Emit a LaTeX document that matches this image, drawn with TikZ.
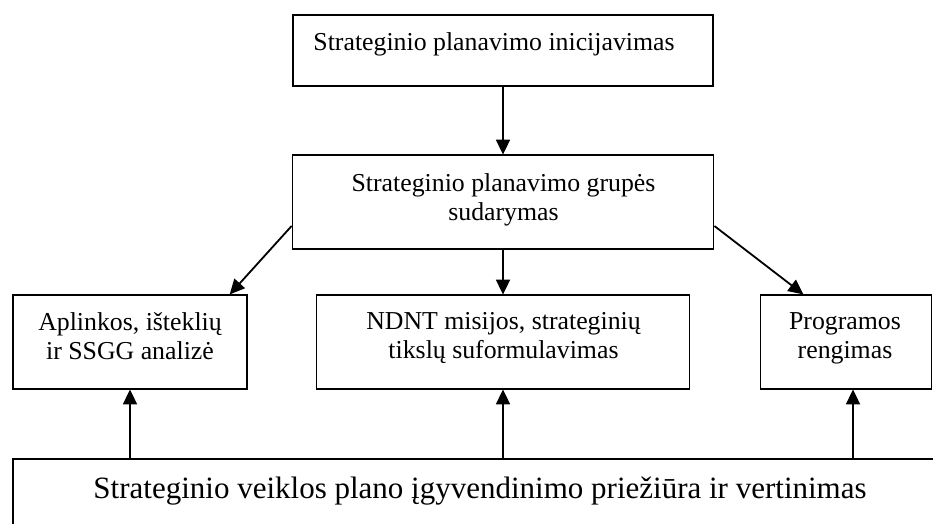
\documentclass[tikz,border=0pt]{standalone}
\usepackage{fontspec}
\setmainfont{Liberation Serif}
\usetikzlibrary{arrows.meta}
\tikzset{
  box/.style={draw=black, line width=1.8pt, rectangle, inner sep=0pt},
  txt/.style={anchor=base, align=center, inner sep=0pt, font=\fontsize{25.8}{28.5}\selectfont},
  bigtxt/.style={anchor=base, align=center, inner sep=0pt, font=\fontsize{31}{35}\selectfont},
  arr/.style={line width=1.8pt, -{Triangle[length=15pt,width=14pt]}, shorten >=-0.5pt}
}
\begin{document}
\begin{tikzpicture}[x=1pt,y=-1pt]
\useasboundingbox (0,0) rectangle (933,523);
\clip (0,0) rectangle (933,523);
% boxes
\node[box, minimum width=420pt, minimum height=71pt] (b1) at (503,50.5) {};
\node[box, minimum width=421pt, minimum height=94pt] (b2) at (503,202) {};
\node[box, minimum width=234pt, minimum height=94pt] (b3) at (130,342) {};
\node[box, minimum width=373pt, minimum height=94pt] (b4) at (503,342) {};
\node[box, minimum width=171pt, minimum height=94pt] (b5) at (846,342) {};
\node[box, minimum width=937pt, minimum height=90pt] (b6) at (481.5,504) {};
% texts (anchor base = baseline of the last line)
\node[txt] (t1) at (494,50) {Strateginio planavimo inicijavimas};
\node[txt] (t2) at (503.5,220) {Strateginio planavimo grupės\\sudarymas};
\node[txt] (t3) at (130,359) {Aplinkos, išteklių\\ir SSGG analizė};
\node[txt] (t4) at (503.5,358) {NDNT misijos, strateginių\\tikslų suformulavimas};
\node[txt] (t5) at (845,358) {Programos\\rengimas};
\node[bigtxt] (t6) at (480,498) {Strateginio veiklos plano įgyvendinimo priežiūra ir vertinimas};
% connectors
\draw[arr] (b1.south) -- (b2.north);
\draw[arr] (b2.south) -- (b4.north);
\draw[arr] ([yshift=-24pt]b2.west) -- ([xshift=100pt]b3.north);
\draw[arr] ([yshift=-24pt]b2.east) -- ([xshift=-43pt]b5.north);
\coordinate (r5) at ([xshift=7pt]b5.south);
\draw[arr] (b6.north -| b3.south) -- (b3.south);
\draw[arr] (b6.north -| b4.south) -- (b4.south);
\draw[arr] (b6.north -| r5) -- (r5);
\end{tikzpicture}
\end{document}
